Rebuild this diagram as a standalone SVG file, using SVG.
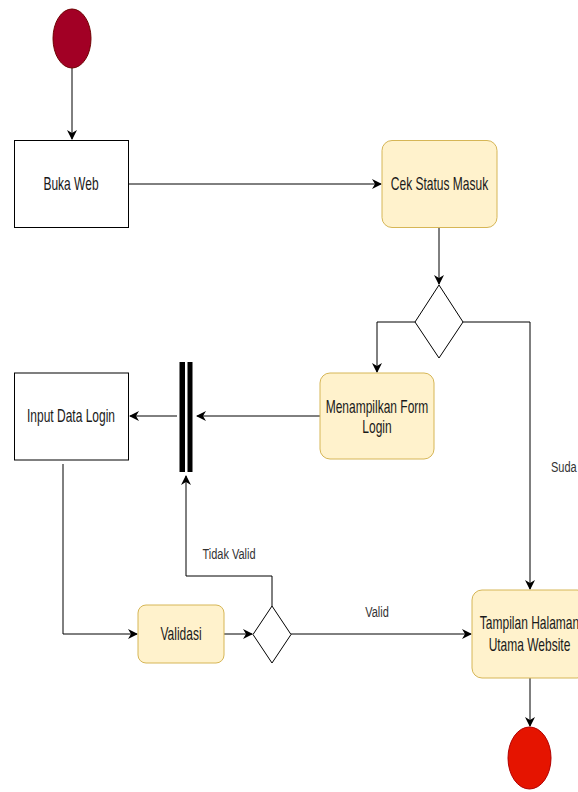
<svg xmlns="http://www.w3.org/2000/svg" width="578" height="792" viewBox="0 0 578 792">
<style>
.box{fill:#ffffff;stroke:#000000;stroke-width:1}
.act{fill:#fff2cc;stroke:#d6b656;stroke-width:1}
.dec{fill:#ffffff;stroke:#000000;stroke-width:1}
.edge{fill:none;stroke:#000000;stroke-width:1}
.t{font-family:"Liberation Sans",Arial,sans-serif;font-size:12px;fill:#1a1a1a;text-anchor:middle}
.lbl{font-family:"Liberation Sans",Arial,sans-serif;font-size:11px;fill:#333333;text-anchor:middle}
</style>
<defs>
<marker id="arr" viewBox="0 0 10 10" refX="9" refY="5" markerWidth="10" markerHeight="10" markerUnits="userSpaceOnUse" orient="auto">
<path d="M0,0 L10,5 L0,10 L3,5 Z" fill="#000000"/>
</marker>
</defs>
<g id="connectors">
<path class="edge" d="M72,68 L72,139" marker-end="url(#arr)"/>
<path class="edge" d="M129,184 L381,184" marker-end="url(#arr)"/>
<path class="edge" d="M439,228 L439,284" marker-end="url(#arr)"/>
<path class="edge" d="M415,322 L377,322 L377,372" marker-end="url(#arr)"/>
<path class="edge" d="M463,322 L530,322 L530,589" marker-end="url(#arr)"/>
<path class="edge" d="M320,416 L197,416" marker-end="url(#arr)"/>
<path class="edge" d="M177,416 L130,416" marker-end="url(#arr)"/>
<path class="edge" d="M63,464 L63,634 L137,634" marker-end="url(#arr)"/>
<path class="edge" d="M224,634 L252,634" marker-end="url(#arr)"/>
<path class="edge" d="M272,606 L272,576 L186,576 L186,476" marker-end="url(#arr)"/>
<path class="edge" d="M291,634 L471,634" marker-end="url(#arr)"/>
<path class="edge" d="M530,678 L530,726" marker-end="url(#arr)"/>
<g transform="translate(229,559.3) scale(1,1.4)"><text class="lbl" x="0" y="0">Tidak Valid</text></g>
<g transform="translate(377,617.3) scale(1,1.4)"><text class="lbl" x="0" y="0">Valid</text></g>
<g transform="translate(551,471.7) scale(1,1.4)"><text class="lbl" x="0" y="0" style="text-anchor:start">Suda</text></g>
</g>
<g id="start">
<ellipse cx="72" cy="38.5" rx="19" ry="29.5" fill="#a20025" stroke="#6f0000" stroke-width="1"/>
</g>
<g id="buka-web">
<rect class="box" x="14.5" y="140.5" width="114" height="87"/>
<g transform="translate(71,184) scale(1,1.5)"><text class="t" x="0" y="4">Buka Web</text></g>
</g>
<g id="cek-status">
<rect class="act" x="382" y="140.5" width="115" height="87" rx="10" ry="10"/>
<g transform="translate(439.5,184) scale(1,1.5)"><text class="t" x="0" y="4">Cek Status Masuk</text></g>
</g>
<g id="decision1">
<polygon class="dec" points="439,285 463,322 439,358 415,322"/>
</g>
<g id="menampilkan">
<rect class="act" x="320" y="373" width="114" height="86" rx="10" ry="10"/>
<g transform="translate(377,412.7) scale(1,1.5)"><text class="t" x="0" y="0">Menampilkan Form</text></g>
<g transform="translate(377,433) scale(1,1.5)"><text class="t" x="0" y="0">Login</text></g>
</g>
<g id="fork">
<rect x="179.5" y="362" width="5.5" height="110" fill="#000000"/>
<rect x="187.5" y="362" width="5" height="110" fill="#000000"/>
</g>
<g id="input-data-login">
<rect class="box" x="14.5" y="373" width="114" height="87"/>
<g transform="translate(71,416) scale(1,1.5)"><text class="t" x="0" y="4">Input Data Login</text></g>
</g>
<g id="validasi">
<rect class="act" x="138" y="605" width="86" height="58" rx="8" ry="8"/>
<g transform="translate(181,634) scale(1,1.5)"><text class="t" x="0" y="4">Validasi</text></g>
</g>
<g id="decision2">
<polygon class="dec" points="272,606 291,634.5 272,663 253,634.5"/>
</g>
<g id="tampilan">
<rect class="act" x="472" y="590" width="115" height="88" rx="10" ry="10"/>
<g transform="translate(529.5,629) scale(1,1.5)"><text class="t" x="0" y="0">Tampilan Halaman</text></g>
<g transform="translate(529.5,651) scale(1,1.5)"><text class="t" x="0" y="0">Utama Website</text></g>
</g>
<g id="end">
<ellipse cx="529.5" cy="758" rx="21.5" ry="31" fill="#e51400" stroke="#b20000" stroke-width="1"/>
</g>
</svg>
